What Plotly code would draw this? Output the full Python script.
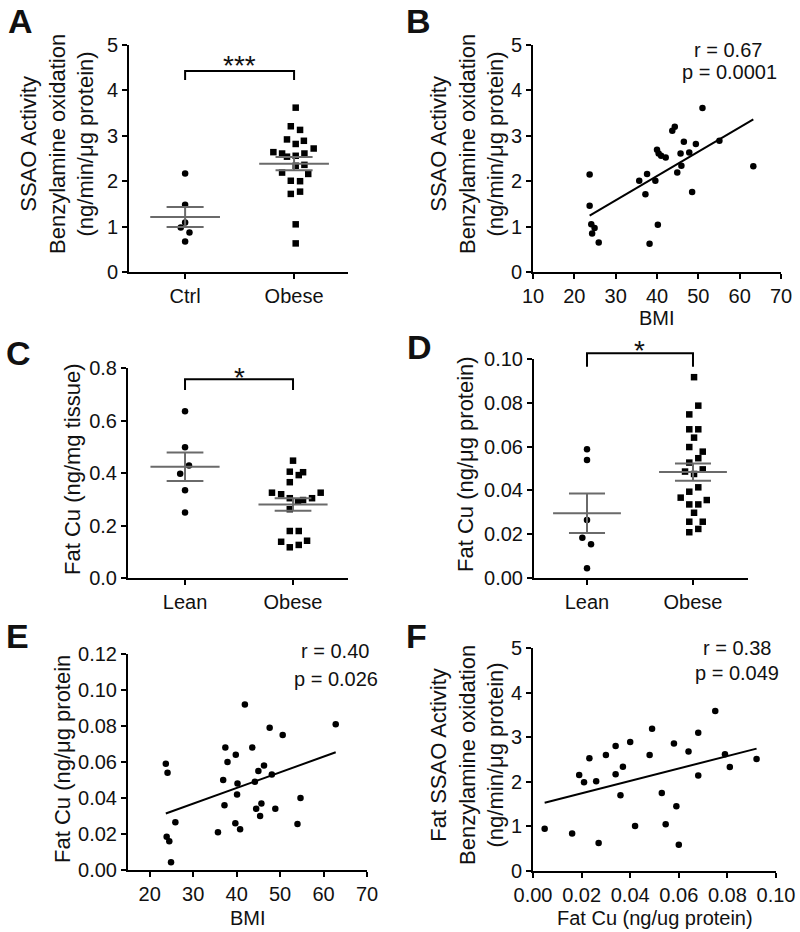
import numpy as np
import plotly.graph_objects as go

W, H = 800, 932
FONT = "Liberation Sans, Arial, sans-serif"

# ---------------- DATA ----------------
# Panel A: SSAO activity, Ctrl vs Obese
a_groups = ["Ctrl", "Obese"]
a_ctrl = [2.17, 1.48, 1.09, 0.98, 0.87, 0.67]
a_ctrl_jit = [0.0, 0.0, 0.0, -0.04, 0.04, 0.0]
a_obese = [3.62, 3.21, 3.13, 2.92, 2.82, 2.89, 2.64, 2.61, 2.54, 2.56, 2.61,
           2.72, 2.34, 2.36, 2.19, 2.16, 2.01, 2.00, 1.72, 1.77, 1.05, 0.63]
a_obese_jit = [0.015, -0.03, 0.055, -0.065, 0.015, 0.09, -0.19, -0.11, -0.065, 0.015, 0.095,
               0.18, 0.015, 0.095, -0.11, 0.13, -0.03, 0.055, -0.03, 0.055, 0.015, 0.015]

# Panel B: SSAO activity vs BMI
b_bmi = [23.7, 23.7, 24.1, 24.9, 24.3, 25.9,
         51.0, 44.3, 43.7, 46.5, 49.4, 55.1, 40.0, 40.4, 41.0, 42.1, 45.7,
         47.8, 45.9, 44.9, 37.6, 35.7, 39.6, 37.2, 48.5, 63.3, 40.2, 38.2]
b_ssao = [2.15, 1.46, 1.05, 0.97, 0.85, 0.65,
          3.61, 3.20, 3.11, 2.87, 2.82, 2.89, 2.69, 2.61, 2.56, 2.52, 2.61,
          2.63, 2.34, 2.19, 2.16, 2.01, 2.01, 1.71, 1.76, 2.33, 1.04, 0.62]
b_stats = ["r = 0.67", "p = 0.0001"]

# Panel C: Fat Cu (ng/mg tissue), Lean vs Obese
c_groups = ["Lean", "Obese"]
c_lean = [0.635, 0.498, 0.429, 0.397, 0.334, 0.250]
c_lean_jit = [0.0, 0.0, 0.037, -0.045, 0.0, 0.0]
c_obese = [0.447, 0.405, 0.392, 0.403, 0.365, 0.325, 0.319, 0.304, 0.291, 0.297,
           0.304, 0.325, 0.262, 0.179, 0.179, 0.138, 0.117, 0.126, 0.142]
c_obese_jit = [0.0, -0.03, 0.053, 0.093, -0.03, -0.195, -0.11, -0.03, 0.046, 0.093,
               0.176, 0.256, -0.03, -0.03, 0.053, -0.11, -0.03, 0.053, 0.13]

# Panel D: Fat Cu (ng/ug protein), Lean vs Obese
d_groups = ["Lean", "Obese"]
d_lean = [0.0588, 0.0539, 0.0265, 0.0184, 0.0154, 0.0044]
d_lean_jit = [0.0, 0.0, 0.0, -0.044, 0.038, 0.0]
d_obese = [0.0917, 0.0787, 0.0747, 0.0679, 0.0679, 0.0641, 0.0598, 0.0577, 0.0547, 0.0527,
           0.0486, 0.0475, 0.0496, 0.0414, 0.0394, 0.0367, 0.0356, 0.0336, 0.0336, 0.0298,
           0.0257, 0.0257, 0.0224, 0.0209]
d_obese_jit = [0.01, 0.05, -0.035, -0.035, 0.05, 0.01, -0.035, 0.092, 0.05, -0.035,
               -0.075, 0.01, 0.092, 0.05, -0.035, -0.116, 0.13, -0.035, 0.05, 0.01,
               -0.035, 0.092, 0.05, -0.035]

# Panel E: Fat Cu vs BMI
e_bmi = [23.7, 24.1, 23.9, 24.5, 24.9, 25.9, 35.7, 36.9, 37.2, 37.4, 37.9, 39.8, 39.7,
         40.2, 40.1, 40.8, 41.9, 43.6, 44.2, 44.5, 45.0, 45.4, 45.7, 46.3, 47.6, 48.1,
         48.9, 50.6, 54.0, 54.7, 62.8]
e_cu = [0.059, 0.054, 0.0185, 0.016, 0.0043, 0.0265, 0.021, 0.050, 0.036, 0.068, 0.060,
        0.064, 0.026, 0.048, 0.042, 0.0226, 0.092, 0.068, 0.049, 0.034, 0.055, 0.030,
        0.037, 0.058, 0.079, 0.053, 0.034, 0.075, 0.0256, 0.040, 0.081]
e_stats = ["r = 0.40", "p = 0.026"]

# Panel F: Fat SSAO activity vs Fat Cu
f_cu = [0.0048, 0.0161, 0.019, 0.021, 0.0232, 0.026, 0.027, 0.030, 0.034, 0.034,
        0.036, 0.037, 0.040, 0.042, 0.048, 0.049, 0.053, 0.0546, 0.058, 0.059,
        0.060, 0.064, 0.068, 0.068, 0.075, 0.079, 0.081, 0.092]
f_ssao = [0.95, 0.84, 2.15, 1.99, 2.53, 2.01, 0.63, 2.60, 2.80, 2.17,
          1.70, 2.34, 2.89, 1.01, 2.60, 3.19, 1.75, 1.05, 2.86, 1.45,
          0.59, 2.68, 3.10, 2.14, 3.59, 2.62, 2.33, 2.51]
f_stats = ["r = 0.38", "p = 0.049"]

# ---------------- HELPERS ----------------
def px_x(x):
    return x / W

def px_y(y):
    return 1 - y / H

ERR_COLOR = "#6a6a6a"
fig = go.Figure()

def add_group(xa, ya, pos, vals, jit, symbol, size):
    fig.add_trace(go.Scatter(
        x=[pos + j for j in jit], y=vals, mode="markers", xaxis=xa, yaxis=ya,
        marker=dict(symbol=symbol, size=size, color="black", line=dict(width=0)),
        showlegend=False, hoverinfo="skip"))
    v = np.array(vals, dtype=float)
    m = v.mean()
    s = v.std(ddof=1) / np.sqrt(len(v))
    fig.add_trace(go.Scatter(x=[pos - 0.32, pos + 0.32], y=[m, m], mode="lines",
                             xaxis=xa, yaxis=ya, line=dict(color=ERR_COLOR, width=2),
                             showlegend=False, hoverinfo="skip"))
    for yy in (m + s, m - s):
        fig.add_trace(go.Scatter(x=[pos - 0.17, pos + 0.17], y=[yy, yy], mode="lines",
                                 xaxis=xa, yaxis=ya, line=dict(color=ERR_COLOR, width=2),
                                 showlegend=False, hoverinfo="skip"))
    fig.add_trace(go.Scatter(x=[pos, pos], y=[m - s, m + s], mode="lines",
                             xaxis=xa, yaxis=ya, line=dict(color=ERR_COLOR, width=2),
                             showlegend=False, hoverinfo="skip"))

def add_corr(xa, ya, xs, ys):
    fig.add_trace(go.Scatter(x=xs, y=ys, mode="markers", xaxis=xa, yaxis=ya,
                             marker=dict(symbol="circle", size=6.5, color="black"),
                             showlegend=False, hoverinfo="skip"))
    k, b = np.polyfit(xs, ys, 1)
    x0, x1 = min(xs), max(xs)
    fig.add_trace(go.Scatter(x=[x0, x1], y=[k * x0 + b, k * x1 + b], mode="lines",
                             xaxis=xa, yaxis=ya, line=dict(color="black", width=2),
                             showlegend=False, hoverinfo="skip"))

add_group("x", "y", 0, a_ctrl, a_ctrl_jit, "circle", 6.5)
add_group("x", "y", 1, a_obese, a_obese_jit, "square", 6.5)
add_corr("x2", "y2", b_bmi, b_ssao)
add_group("x3", "y3", 0, c_lean, c_lean_jit, "circle", 6.5)
add_group("x3", "y3", 1, c_obese, c_obese_jit, "square", 6.5)
add_group("x4", "y4", 0, d_lean, d_lean_jit, "circle", 6.5)
add_group("x4", "y4", 1, d_obese, d_obese_jit, "square", 6.5)
add_corr("x5", "y5", e_bmi, e_cu)
add_corr("x6", "y6", f_cu, f_ssao)

# ---------------- AXES ----------------
def axis(**kw):
    base = dict(showline=True, linecolor="black", linewidth=2, ticks="outside",
                ticklen=5, tickwidth=2, tickcolor="black", showgrid=False,
                zeroline=False, tickfont=dict(family=FONT, size=20, color="#111"),
                fixedrange=True, automargin=False)
    base.update(kw)
    return base

geo = {
    1: (129, 348, 45, 272),
    2: (533, 781, 45, 272),
    3: (128, 348, 368, 578),
    4: (534, 748, 359, 578),
    5: (128, 367, 654, 870),
    6: (533, 776, 648, 871),
}
ranges_x = {1: [-0.515, 1.495], 2: [10, 70], 3: [-0.528, 1.509], 4: [-0.5, 1.519],
            5: [15, 70], 6: [0, 0.10]}
ranges_y = {1: [0, 5], 2: [0, 5], 3: [0, 0.8], 4: [0, 0.10], 5: [0, 0.12], 6: [0, 5]}

layout = dict(width=W, height=H, margin=dict(l=0, r=0, t=0, b=0, autoexpand=False),
              plot_bgcolor="white", paper_bgcolor="white", showlegend=False,
              font=dict(family=FONT, color="#111"))

xkw = {
    1: dict(tickvals=[0, 1], ticktext=a_groups),
    2: dict(tickvals=list(range(10, 71, 10))),
    3: dict(tickvals=[0, 1], ticktext=c_groups),
    4: dict(tickvals=[0, 1], ticktext=d_groups),
    5: dict(tickvals=list(range(20, 71, 10))),
    6: dict(tickvals=[0, 0.02, 0.04, 0.06, 0.08, 0.10], tickformat=".2f"),
}
ykw = {
    1: dict(tickvals=[0, 1, 2, 3, 4, 5]),
    2: dict(tickvals=[0, 1, 2, 3, 4, 5]),
    3: dict(tickvals=[0, 0.2, 0.4, 0.6, 0.8], tickformat=".1f"),
    4: dict(tickvals=[0, 0.02, 0.04, 0.06, 0.08, 0.10], tickformat=".2f"),
    5: dict(tickvals=[0, 0.02, 0.04, 0.06, 0.08, 0.10, 0.12], tickformat=".2f"),
    6: dict(tickvals=[0, 1, 2, 3, 4, 5]),
}
for i in range(1, 7):
    l, r, t, b = geo[i]
    xn = "xaxis" if i == 1 else f"xaxis{i}"
    yn = "yaxis" if i == 1 else f"yaxis{i}"
    sfx = "" if i == 1 else str(i)
    layout[xn] = axis(domain=[px_x(l), px_x(r)], range=ranges_x[i], anchor="y" + sfx, **xkw[i])
    layout[yn] = axis(domain=[px_y(b), px_y(t)], range=ranges_y[i], anchor="x" + sfx, **ykw[i])

fig.update_layout(**layout)

# ---------------- ANNOTATIONS ----------------
ann = []
def text(x, y, s, size, angle=0):
    ann.append(dict(x=px_x(x), y=px_y(y), xref="paper", yref="paper", text=s,
                    showarrow=False, textangle=angle, xanchor="center", yanchor="middle",
                    font=dict(family=FONT, size=size, color="#111"), align="center"))

for lab, (x, y) in {"A": (20, 21), "B": (418, 21), "C": (18, 353),
                    "D": (419, 347), "E": (17, 636), "F": (416, 636)}.items():
    text(x, y, f"<b>{lab}</b>", 34)

text(57, 144, "SSAO Activity<br>Benzylamine oxidation<br>(ng/min/μg protein)", 22, angle=-90)
text(467, 144, "SSAO Activity<br>Benzylamine oxidation<br>(ng/min/μg protein)", 22, angle=-90)
text(72, 469, "Fat Cu (ng/mg tissue)", 22, angle=-90)
text(465, 464, "Fat Cu (ng/μg protein)", 22, angle=-90)
text(62, 759, "Fat Cu (ng/μg protein", 22, angle=-90)
text(467, 755, "Fat SSAO Activity<br>Benzylamine oxidation<br>(ng/min/μg protein)", 22, angle=-90)

text(657, 318, "BMI", 20)
text(248, 918, "BMI", 20)
text(655, 918, "Fat Cu (ng/ug protein)", 20)

text(728, 50, b_stats[0], 20)
text(729, 72, b_stats[1], 20)
text(335, 651, e_stats[0], 20)
text(336, 679, e_stats[1], 20)
text(737, 648, f_stats[0], 20)
text(737, 673, f_stats[1], 20)

fig.update_layout(annotations=ann)

def bracket(i, x0, x1, ytop, ybot, star, ystar):
    xr, yr = ranges_x[i], ranges_y[i]
    fx = lambda v: (v - xr[0]) / (xr[1] - xr[0])
    fy = lambda v: (v - yr[0]) / (yr[1] - yr[0])
    sfx = "" if i == 1 else str(i)
    path = (f"M {fx(x0)},{fy(ybot)} L {fx(x0)},{fy(ytop)} "
            f"L {fx(x1)},{fy(ytop)} L {fx(x1)},{fy(ybot)}")
    fig.add_shape(type="path", path=path, xref=f"x{sfx} domain", yref=f"y{sfx} domain",
                  line=dict(color="black", width=2))
    fig.add_annotation(x=fx((x0 + x1) / 2), y=fy(ystar), xref=f"x{sfx} domain",
                       yref=f"y{sfx} domain", text=star, showarrow=False,
                       yanchor="middle", font=dict(family=FONT, size=28, color="#111"))

bracket(1, 0, 1, 4.43, 4.23, "***", 4.55)
bracket(3, 0, 1, 0.757, 0.716, "*", 0.765)
bracket(4, 0, 1, 0.1026, 0.0965, "*", 0.1040)

fig.write_html("out.html", config={"displayModeBar": False},
               post_script="document.body.style.margin='0';document.body.style.padding='0';")
